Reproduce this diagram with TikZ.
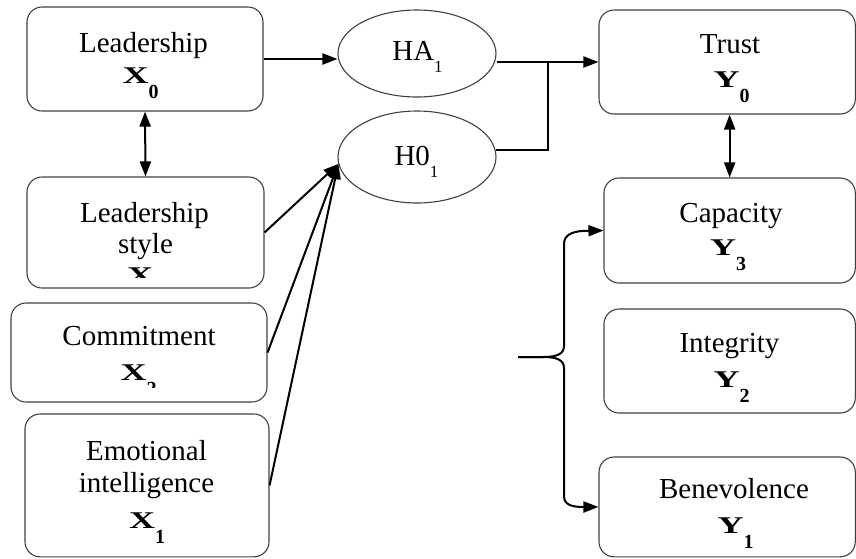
\documentclass[tikz,border=0pt]{standalone}
\usepackage{fontspec}
\setmainfont{Liberation Serif}
\usetikzlibrary{arrows.meta,shapes.geometric}
\definecolor{boxgray}{HTML}{404040}
\newcommand\bvar[2]{\scalebox{1.5}[1]{\fontsize{24}{24}\selectfont\bfseries #1}\raisebox{-15pt}{\fontsize{20}{20}\selectfont\bfseries #2}}
\newcommand\hsub[2]{#1\raisebox{-12pt}{\fontsize{17}{17}\selectfont #2}}
\tikzset{
  box/.style={draw=boxgray, line width=1.1pt, rounded corners=15pt, inner sep=0pt},
  ell/.style={ellipse, draw=boxgray, line width=1.1pt, inner sep=0pt},
  lbl/.style={anchor=base, inner sep=0pt, font=\fontsize{29}{29}\selectfont},
  conn/.style={line width=2pt, black},
  arr/.style={conn, -{Triangle[length=15pt,width=11pt]}},
  darr/.style={conn, {Triangle[length=15pt,width=11pt]}-{Triangle[length=15pt,width=11pt]}},
}
\begin{document}
\begin{tikzpicture}[x=1pt,y=-1pt]
\useasboundingbox (0,0) rectangle (856,558);
% boxes
\node[box, minimum width=236pt, minimum height=104pt] (L0) at (145,59) {};
\node[box, minimum width=237pt, minimum height=111pt] (LS) at (145.5,232.5) {};
\node[box, minimum width=256pt, minimum height=99pt] (C) at (139,352.5) {};
\node[box, minimum width=244pt, minimum height=142.8pt] (EI) at (147,485.4) {};
\node[box, minimum width=256.3pt, minimum height=104pt] (T) at (727.15,62) {};
\node[box, minimum width=251.3pt, minimum height=105pt] (Cap) at (729.65,230.5) {};
\node[box, minimum width=251.3pt, minimum height=104pt] (Int) at (729.65,361) {};
\node[box, minimum width=256.3pt, minimum height=99.8pt] (Ben) at (727.15,506.9) {};
% ellipses
\node[ell, minimum width=158pt, minimum height=87pt] (HA) at (417,53.5) {};
\node[ell, minimum width=158pt, minimum height=92pt] (H0) at (417,157) {};
% texts
\node[lbl] (tL0a) at (143.5,52) {Leadership};
\node[lbl] (tL0b) at (140.5,83) {\bvar{X}{0}};
\node[lbl] (tLSa) at (144.5,222) {Leadership};
\node[lbl] (tLSb) at (145.5,253) {style};
\begin{scope}
\clip (28,180) rectangle (263,277);
\node[lbl] (tLSc) at (140,283) {\scalebox{1.5}[1]{\fontsize{24}{24}\selectfont\bfseries X}};
\end{scope}
\node[lbl] (tCa) at (139,345) {Commitment};
\begin{scope}
\clip (12,305) rectangle (266,387);
\node[lbl] (tCb) at (138.5,380) {\bvar{X}{2}};
\end{scope}
\node[lbl] (tEIa) at (146.5,460) {Emotional};
\node[lbl] (tEIb) at (146.5,492) {intelligence};
\node[lbl] (tEIc) at (147,528) {\bvar{X}{1}};
\node[lbl] (tHA) at (417.5,60) {\hsub{HA}{1}};
\node[lbl] (tH0) at (416.5,165) {\hsub{H0}{1}};
\node[lbl] (tTa) at (730,53) {Trust};
\node[lbl] (tTb) at (731.5,87) {\bvar{Y}{0}};
\node[lbl] (tCapa) at (731,222) {Capacity};
\node[lbl] (tCapb) at (728,255) {\bvar{Y}{3}};
\node[lbl] (tInta) at (729.5,352) {Integrity};
\node[lbl] (tIntb) at (731.5,387) {\bvar{Y}{2}};
\node[lbl] (tBena) at (734,498) {Benevolence};
\node[lbl] (tBenb) at (735.5,533) {\bvar{Y}{1}};
% connectors
\draw[arr] (L0.east) -- (L0.east -| HA.west);
\draw[darr] (L0.south) -- (LS.north);
\draw[arr] (LS.east) -- (H0.185);
\draw[arr] (C.east) -- (H0.185);
\draw[arr] (EI.east) -- (H0.185);
\coordinate (jn) at (548,62);
\draw[arr] (T.west -| HA.east) -- (T.west);
\draw[conn] (H0.5) -| (jn);
\draw[darr] (Cap.north |- T.south) -- (Cap.north);
% brace
\coordinate (bt) at (518,357);
\draw[arr] (bt) -- (543,357) .. controls (557,357) and (564,354) .. (564,346) -- (564,244) .. controls (564,235) and (572,231.5) .. (584,230.8) -- (Cap.west);
\draw[arr] (bt) -- (543,357) .. controls (557,357) and (564,360) .. (564,368) -- (564,496) .. controls (564,505) and (572,507) .. (584,507) -- (Ben.west);
\end{tikzpicture}
\end{document}
